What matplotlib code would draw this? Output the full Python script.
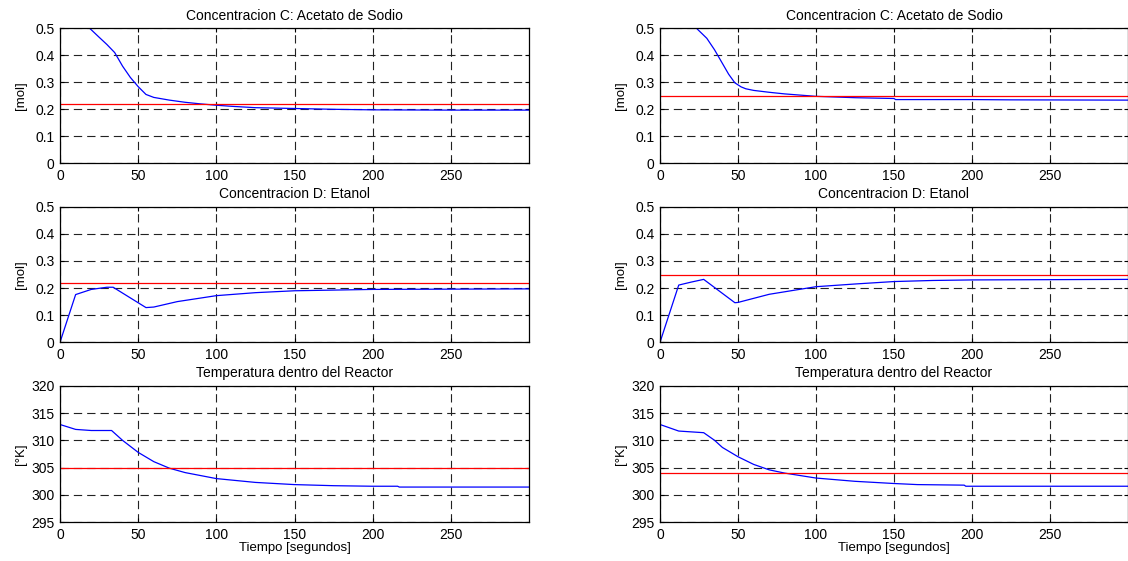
import matplotlib
matplotlib.use("Agg")
import matplotlib.pyplot as plt

plt.rcParams['font.family'] = ['Liberation Sans', 'DejaVu Sans']
plt.rcParams['lines.scale_dashes'] = False

tC1 = [0, 19, 25, 30, 35, 40, 45, 50, 55, 60, 70, 80, 90, 100, 110, 125, 150, 175, 200, 250, 300]
C1 = [0.60, 0.50, 0.467, 0.44, 0.41, 0.36, 0.318, 0.284, 0.255, 0.244, 0.234, 0.226, 0.22,
      0.215, 0.211, 0.206, 0.203, 0.200, 0.198, 0.197, 0.197]
tD1 = [0, 10, 20, 30, 34, 55, 60, 75, 100, 125, 150, 200, 300]
D1 = [0.0, 0.176, 0.195, 0.203, 0.203, 0.128, 0.130, 0.150, 0.172, 0.183, 0.190, 0.195, 0.197]
tT1 = [0, 10, 20, 33, 40, 50, 60, 70, 80, 100, 125, 150, 175, 200, 216, 217, 300]
T1 = [312.9, 312.0, 311.8, 311.8, 310.0, 307.8, 306.1, 304.9, 304.1, 303.0, 302.3, 301.9,
      301.7, 301.6, 301.6, 301.45, 301.45]

tC2 = [0, 23.4, 30, 35, 40, 44, 48, 52, 55, 60, 70, 80, 100, 125, 150, 151, 200, 225, 300]
C2 = [0.65, 0.50, 0.463, 0.42, 0.37, 0.33, 0.298, 0.283, 0.276, 0.270, 0.263, 0.257, 0.248,
      0.243, 0.240, 0.236, 0.236, 0.235, 0.234]
tD2 = [0, 12, 20, 28, 48, 50, 70, 100, 125, 150, 175, 200, 300]
D2 = [0.0, 0.211, 0.222, 0.232, 0.146, 0.147, 0.177, 0.205, 0.215, 0.224, 0.228, 0.230, 0.232]
tT2 = [0, 12, 28, 35, 40, 50, 60, 70, 80, 100, 125, 150, 165, 195, 196, 300]
T2 = [312.9, 311.7, 311.4, 310.0, 308.7, 307.0, 305.6, 304.6, 304.0, 303.1, 302.5, 302.1,
      301.9, 301.8, 301.6, 301.6]

ref_C = [0.218, 0.25]
ref_D = [0.218, 0.25]
ref_T = [305, 304]

titulos = ['Concentracion C: Acetato de Sodio', 'Concentracion D: Etanol',
           'Temperatura dentro del Reactor']
unidades = ['[mol]', '[mol]', '[\u00b0K]']

W, H = 1128, 561
fig = plt.figure(figsize=(W / 100, H / 100), dpi=100)

filas = [(28.3, 163.3), (206.7, 342.3), (385.7, 522.3)]
cols = [(60, 529), (660, 1128)]

datos = [[(tC1, C1, ref_C[0]), (tD1, D1, ref_D[0]), (tT1, T1, ref_T[0])],
         [(tC2, C2, ref_C[1]), (tD2, D2, ref_D[1]), (tT2, T2, ref_T[1])]]

for j, (x0, x1) in enumerate(cols):
    for i, (y0, y1) in enumerate(filas):
        ax = fig.add_axes([x0 / W, 1 - y1 / H, (x1 - x0) / W, (y1 - y0) / H])
        t, y, ref = datos[j][i]
        ax.plot(t, y, color='#0000ff', lw=0.9)
        ax.axhline(ref, color='#ff0000', lw=0.9)
        ax.set_xlim(0, 300)
        ax.set_xticks([0, 50, 100, 150, 200, 250])
        if i < 2:
            ax.set_ylim(0, 0.5)
            ax.set_yticks([0, 0.1, 0.2, 0.3, 0.4, 0.5])
            ax.set_yticklabels(['0', '0.1', '0.2', '0.3', '0.4', '0.5'])
            ax.set_ylabel(unidades[i], fontsize=9.5, labelpad=6)
        else:
            ax.set_ylim(295, 320)
            ax.set_yticks([295, 300, 305, 310, 315, 320])
            ax.set_xlabel('Tiempo [segundos]', fontsize=9.5, labelpad=0)
            ax.set_ylabel(unidades[i], fontsize=9.5, labelpad=3)
        ax.grid(True, color='#222222', lw=0.8, linestyle=(0, (6, 3.6)))
        ax.tick_params(direction='in', length=3, width=0.8, labelsize=10,
                       top=True, right=True, pad=4)
        for s in ax.spines.values():
            s.set_linewidth(0.9)
        ax.set_title(titulos[i], fontsize=10, pad=6)

fig.savefig('out.png', dpi=100)
